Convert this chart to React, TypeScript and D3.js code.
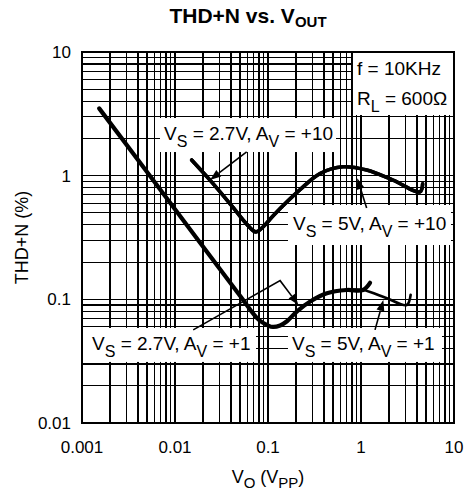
import React from 'react';
import * as d3 from 'd3';

// Axis domains and tick labels
const xDomain: [number, number] = [0.001, 10];
const yDomain: [number, number] = [0.01, 10];
const xTickValues = [0.001, 0.01, 0.1, 1, 10];
const xTickLabels = ['0.001', '0.01', '0.1', '1', '10'];
const yTickValues = [0.01, 0.1, 1, 10];
const yTickLabels = ['0.01', '0.1', '1', '10'];

// VS = 2.7V, AV = +1
const vo_av1_27 = [0.00153, 0.01, 0.05, 0.08, 0.1, 0.113, 0.135, 0.16, 0.205, 0.29, 0.43, 0.7, 1.05, 1.25];
const thd_av1_27 = [3.5, 0.536, 0.107, 0.068, 0.0615, 0.0598, 0.0615, 0.0665, 0.08, 0.097, 0.112, 0.119, 0.119, 0.136];
// VS = 5V, AV = +1
const vo_av1_5 = [0.00153, 0.01, 0.05, 0.08, 0.1, 0.113, 0.135, 0.16, 0.205, 0.29, 0.43, 0.7, 1.05, 1.9, 3.1, 3.42];
const thd_av1_5 = [3.5, 0.536, 0.107, 0.068, 0.0615, 0.0598, 0.0615, 0.0665, 0.08, 0.097, 0.112, 0.119, 0.119, 0.102, 0.09, 0.109];
// VS = 2.7V, AV = +10
const vo_av10_27 = [0.0151, 0.0238, 0.04, 0.06, 0.0743, 0.0906, 0.113, 0.221, 0.362, 0.64, 1.15, 2.21, 4.3, 4.6];
const thd_av10_27 = [1.34, 0.92, 0.58, 0.4, 0.351, 0.392, 0.472, 0.77, 1.04, 1.18, 1.11, 0.92, 0.74, 0.86];
// VS = 5V, AV = +10
const vo_av10_5 = [0.0151, 0.0238, 0.04, 0.06, 0.0743, 0.0906, 0.113, 0.221, 0.362, 0.64, 1.15, 2.21, 4.3, 4.6];
const thd_av10_5 = [1.34, 0.92, 0.58, 0.4, 0.351, 0.392, 0.472, 0.77, 1.04, 1.18, 1.11, 0.92, 0.74, 0.86];

// Annotation arrows (data coordinates)
const arrowA_x = [0.059, 0.0238];
const arrowA_y = [1.56, 0.924];
const arrowB_x = [1.15, 0.912];
const arrowB_y = [0.548, 0.953];
const arrowC_x = [0.0157, 0.135, 0.212];
const arrowC_y = [0.0566, 0.1416, 0.0901];
const arrowD_x = [1.415, 1.74];
const arrowD_y = [0.0566, 0.0989];

const W = 465;
const H = 495;
const FONT = 'Liberation Sans, Arial, Helvetica, sans-serif';

export default function App() {
  const x = d3.scaleLog().domain(xDomain).range([82, 454]);
  const y = d3.scaleLog().domain(yDomain).range([423, 52]);

  const gridX = x.ticks();
  const gridY = y.ticks();

  const line = d3
    .line<[number, number]>()
    .x((d) => x(d[0]))
    .y((d) => y(d[1]))
    .curve(d3.curveCatmullRom.alpha(0.5));

  const zip = (a: number[], b: number[]) => a.map((v, i) => [v, b[i]] as [number, number]);

  const series = [
    { xs: vo_av1_5, ys: thd_av1_5, w: 2.6 },
    { xs: vo_av1_27, ys: thd_av1_27, w: 4.2 },
    { xs: vo_av10_5, ys: thd_av10_5, w: 3.6 },
    { xs: vo_av10_27, ys: thd_av10_27, w: 3.6 },
  ];

  const arrows = [
    { xs: arrowA_x, ys: arrowA_y },
    { xs: arrowB_x, ys: arrowB_y },
    { xs: arrowC_x, ys: arrowC_y },
    { xs: arrowD_x, ys: arrowD_y },
  ];

  const arrowEls = arrows.map((a, i) => {
    const pts = a.xs.map((v, j) => [x(v), y(a.ys[j])]);
    const n = pts.length;
    const [x1, y1] = pts[n - 2];
    const [x2, y2] = pts[n - 1];
    const ang = Math.atan2(y2 - y1, x2 - x1);
    const L = 11;
    const Wd = 4;
    const bx = x2 - L * Math.cos(ang);
    const by = y2 - L * Math.sin(ang);
    const px = -Math.sin(ang) * Wd;
    const py = Math.cos(ang) * Wd;
    const head = `${x2},${y2} ${bx + px},${by + py} ${bx - px},${by - py}`;
    const d = 'M' + pts.slice(0, n - 1).map((p) => p.join(',')).join('L') + `L${bx},${by}`;
    return (
      <g key={'arrow' + i}>
        <path d={d} fill="none" stroke="#000" strokeWidth={1.6} />
        <polygon points={head} fill="#000" />
      </g>
    );
  });

  // Label boxes: anchored at data coords (left, top)
  const boxes = [
    { lx: 0.00673, ty: 2.98, w: 178, h: 36 },
    { lx: 0.16, ty: 0.59, w: 165, h: 42 },
    { lx: 0.001, ty: 0.0598, w: 175, h: 36 },
    { lx: 0.16, ty: 0.0598, w: 156, h: 36 },
    { lx: 0.8, ty: 10, w: 102, h: 64 },
  ];

  const sub = (t: string) => (
    <tspan fontSize={16} dy={7}>
      {t}
    </tspan>
  );
  const up = (t: string) => <tspan dy={-7}>{t}</tspan>;

  return (
    <svg
      width={W}
      height={H}
      style={{ position: 'absolute', left: 0, top: 0, background: '#fff' }}
      fontFamily={FONT}
    >
      <rect x={0} y={0} width={W} height={H} fill="#fff" />
      {/* grid */}
      <g stroke="#000" strokeWidth={1.2} shapeRendering="crispEdges">
        {gridX.map((v, i) => (
          <line key={'gx' + i} x1={x(v)} x2={x(v)} y1={y(yDomain[0])} y2={y(yDomain[1])} />
        ))}
        {gridY.map((v, i) => (
          <line key={'gy' + i} x1={x(xDomain[0])} x2={x(xDomain[1])} y1={y(v)} y2={y(v)} />
        ))}
      </g>
      {/* frame */}
      <rect
        x={x(xDomain[0])}
        y={y(yDomain[1])}
        width={x(xDomain[1]) - x(xDomain[0])}
        height={y(yDomain[0]) - y(yDomain[1])}
        fill="none"
        stroke="#000"
        strokeWidth={2}
      />
      {/* label boxes */}
      {boxes.map((b, i) => (
        <rect key={'box' + i} x={x(b.lx) + 1} y={y(b.ty) + 1} width={b.w - 2} height={b.h - 2} fill="#fff" />
      ))}
      {/* curves */}
      {series.map((s, i) => (
        <path
          key={'s' + i}
          d={line(zip(s.xs, s.ys)) || ''}
          fill="none"
          stroke="#000"
          strokeWidth={s.w}
          strokeLinejoin="round"
          strokeLinecap="round"
        />
      ))}
      {arrowEls}
      {/* label texts */}
      <g fontSize={19} fill="#000">
        <text x={x(boxes[0].lx) + 5} y={y(boxes[0].ty) + 23}>
          V{sub('S')}{up(' = 2.7V, A')}{sub('V')}{up(' = +10')}
        </text>
        <text x={x(boxes[1].lx) + 6} y={y(boxes[1].ty) + 26}>
          V{sub('S')}{up(' = 5V, A')}{sub('V')}{up(' = +10')}
        </text>
        <text x={x(boxes[2].lx) + 10} y={y(boxes[2].ty) + 23}>
          V{sub('S')}{up(' = 2.7V, A')}{sub('V')}{up(' = +1')}
        </text>
        <text x={x(boxes[3].lx) + 5} y={y(boxes[3].ty) + 23}>
          V{sub('S')}{up(' = 5V, A')}{sub('V')}{up(' = +1')}
        </text>
        <text x={x(boxes[4].lx) + 5} y={y(boxes[4].ty) + 23}>
          f = 10KHz
        </text>
        <text x={x(boxes[4].lx) + 5} y={y(boxes[4].ty) + 53}>
          R{sub('L')}{up(' = 600Ω')}
        </text>
      </g>
      {/* tick labels */}
      <g fontSize={17} fill="#000">
        {xTickValues.map((v, i) => (
          <text key={'xt' + i} x={x(v)} y={453} textAnchor="middle">
            {xTickLabels[i]}
          </text>
        ))}
        {yTickValues.map((v, i) => (
          <text key={'yt' + i} x={71} y={y(v)} dy="0.35em" textAnchor="end">
            {yTickLabels[i]}
          </text>
        ))}
      </g>
      {/* title */}
      <text x={248} y={23} textAnchor="middle" fontSize={21} fontWeight="bold">
        THD+N vs. V
        <tspan fontSize={15} dy={4}>
          OUT
        </tspan>
      </text>
      {/* axis titles */}
      <text x={268} y={483} textAnchor="middle" fontSize={18}>
        V
        <tspan fontSize={15} dy={5}>
          O
        </tspan>
        <tspan dy={-5}> (V</tspan>
        <tspan fontSize={15} dy={5}>
          PP
        </tspan>
        <tspan dy={-5}>)</tspan>
      </text>
      <text
        transform={`translate(28, ${(52 + 423) / 2}) rotate(-90)`}
        textAnchor="middle"
        fontSize={18}
      >
        THD+N (%)
      </text>
    </svg>
  );
}
